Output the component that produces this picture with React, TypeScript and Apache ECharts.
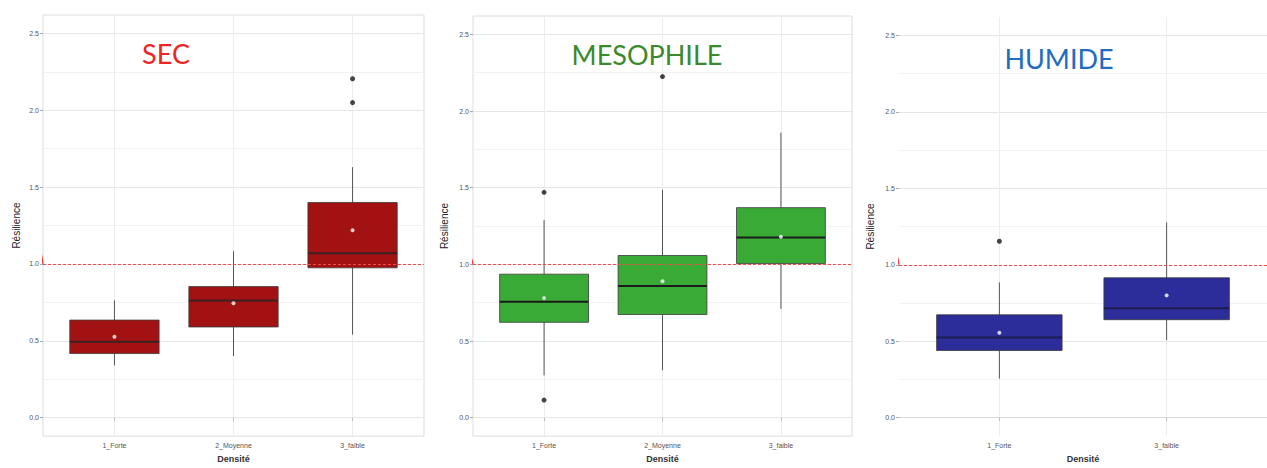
import React, { useEffect, useRef } from "react";
import * as echarts from "echarts";

// ---------- data ----------
const secCategories = ["1_Forte", "2_Moyenne", "3_faible"];
// [min, Q1, median, Q3, max]
const secStats = [
  [0.34, 0.417, 0.494, 0.635, 0.763],
  [0.4, 0.59, 0.763, 0.853, 1.083],
  [0.54, 0.975, 1.07, 1.4, 1.63],
];
const secMeans = [0.526, 0.744, 1.22];
const secOutliers = [
  [3, 2.205],
  [3, 2.05],
];

const mesoCategories = ["1_Forte", "2_Moyenne", "3_faible"];
const mesoStats = [
  [0.276, 0.622, 0.756, 0.936, 1.29],
  [0.31, 0.673, 0.859, 1.058, 1.487],
  [0.71, 1.006, 1.175, 1.37, 1.86],
];
const mesoMeans = [0.78, 0.89, 1.18];
const mesoOutliers = [
  [1, 1.47],
  [1, 0.115],
  [2, 2.225],
];

const humCategories = ["1_Forte", "3_faible"];
const humStats = [
  [0.256, 0.44, 0.525, 0.673, 0.885],
  [0.507, 0.641, 0.716, 0.915, 1.277],
];
const humMeans = [0.556, 0.8];
const humOutliers = [[1, 1.154]];

const yMajorTicks = [0, 0.5, 1, 1.5, 2, 2.5];
const yMinorTicks = [0.25, 0.75, 1.25, 1.75, 2.25];
const referenceValue = 1;

const panels = [
  {
    title: "SEC",
    titleColor: "#ee2424",
    fill: "#a31212",
    median: "#3a2222",
    cats: secCategories,
    stats: secStats,
    means: secMeans,
    outliers: secOutliers,
    grid: { left: 43, top: 15, width: 381, height: 428 },
    border: true,
    titlePos: [166, 53],
    stub: [[0.37, 1.15], [0.4, 1.0]],
    yNameGap: 22,
  },
  {
    title: "MESOPHILE",
    titleColor: "#3a8a2c",
    fill: "#3aaa36",
    median: "#1a1a1a",
    cats: mesoCategories,
    stats: mesoStats,
    means: mesoMeans,
    outliers: mesoOutliers,
    grid: { left: 473, top: 16, width: 379, height: 428 },
    border: true,
    titlePos: [647, 54],
    stub: [[0.355, 1.14], [0.4, 1.0]],
    yNameGap: 24,
  },
  {
    title: "HUMIDE",
    titleColor: "#1f6cc0",
    fill: "#2c2c9a",
    median: "#1c1c50",
    cats: humCategories,
    stats: humStats,
    means: humMeans,
    outliers: humOutliers,
    grid: { left: 899, top: 17, width: 378, height: 428 },
    border: false,
    titlePos: [1059, 58],
    stub: [[0.38, 1.12], [0.4, 1.0]],
    yNameGap: 24,
  },
];

const FONT = "'Liberation Sans', Arial, sans-serif";

export default function App() {
  const ref = useRef<HTMLDivElement>(null);

  useEffect(() => {
    if (!ref.current) return;
    const chart = echarts.init(ref.current, undefined, { renderer: "svg" });

    const grids: any[] = [];
    const xAxes: any[] = [];
    const yAxes: any[] = [];
    const series: any[] = [];
    const graphics: any[] = [];

    panels.forEach((p, pi) => {
      const n = p.cats.length;
      grids.push({
        ...p.grid,
        show: p.border,
        borderColor: "#dcdcdc",
        borderWidth: 1,
        backgroundColor: "transparent",
        containLabel: false,
      });
      const xTicks = p.cats.map((_, i) => i + 1);
      xAxes.push({
        type: "value",
        gridIndex: pi,
        min: 0.4,
        max: n + 0.6,
        axisLine: { show: !p.border, lineStyle: { color: "#d8d8d8" } },
        axisTick: { show: true, customValues: xTicks, length: 3, lineStyle: { color: "#bbbbbb" } },
        axisLabel: {
          customValues: xTicks,
          formatter: (v: number) => p.cats[Math.round(v) - 1] ?? "",
          fontSize: 7,
          color: "#555555",
          margin: 6,
          fontFamily: FONT,
        },
        splitLine: { show: true, lineStyle: { color: "#ededed", width: 1 } },
        name: "Densité",
        nameLocation: "middle",
        nameGap: 16,
        nameTextStyle: { fontSize: 9, fontWeight: "bold", color: "#333", fontFamily: FONT },
      });
      // major y axis
      yAxes.push({
        type: "value",
        gridIndex: pi,
        min: -0.12,
        max: 2.62,
        axisLine: { show: false },
        axisTick: { show: true, customValues: yMajorTicks, length: 3, lineStyle: { color: "#aaaaaa" } },
        axisLabel: {
          customValues: yMajorTicks,
          formatter: (v: number) => v.toFixed(1),
          fontSize: 7,
          color: "#555555",
          margin: 4,
          fontFamily: FONT,
        },
        splitLine: { show: true, lineStyle: { color: "#e6e6e6", width: 1 } },
        name: "Résilience",
        nameLocation: "middle",
        nameGap: p.yNameGap,
        nameTextStyle: { fontSize: 10, color: "#222", fontFamily: FONT },
      });
      // minor y grid
      yAxes.push({
        type: "value",
        gridIndex: pi,
        min: -0.12,
        max: 2.62,
        position: "left",
        axisLine: { show: false },
        axisTick: { show: false, customValues: yMinorTicks },
        axisLabel: { show: false, customValues: yMinorTicks },
        splitLine: { show: true, lineStyle: { color: "#f2f2f2", width: 1 } },
      });
      const xIdx = pi;
      const yIdx = pi * 2;

      series.push({
        type: "custom",
        xAxisIndex: xIdx,
        yAxisIndex: yIdx,
        data: p.stats.map((s, i) => [i + 1, ...s]),
        renderItem: (params: any, api: any) => {
          const x = api.value(0);
          const pMin = api.coord([x, api.value(1)]);
          const pQ1 = api.coord([x, api.value(2)]);
          const pMed = api.coord([x, api.value(3)]);
          const pQ3 = api.coord([x, api.value(4)]);
          const pMax = api.coord([x, api.value(5)]);
          const w = api.size([0.75, 0])[0];
          const cx = pMin[0];
          return {
            type: "group",
            children: [
              {
                type: "line",
                shape: { x1: cx, y1: pMin[1], x2: cx, y2: pQ1[1] },
                style: { stroke: "#555", lineWidth: 1 },
              },
              {
                type: "line",
                shape: { x1: cx, y1: pQ3[1], x2: cx, y2: pMax[1] },
                style: { stroke: "#555", lineWidth: 1 },
              },
              {
                type: "rect",
                shape: { x: cx - w / 2, y: pQ3[1], width: w, height: pQ1[1] - pQ3[1] },
                style: { fill: p.fill, stroke: "#3a3a3a", lineWidth: 0.8 },
              },
              {
                type: "line",
                shape: { x1: cx - w / 2, y1: pMed[1], x2: cx + w / 2, y2: pMed[1] },
                style: { stroke: p.median, lineWidth: 2 },
              },
            ],
          };
        },
        z: 3,
      });

      series.push({
        type: "scatter",
        xAxisIndex: xIdx,
        yAxisIndex: yIdx,
        data: p.outliers,
        symbolSize: 5,
        itemStyle: { color: "#141414" },
        z: 4,
      });

      series.push({
        type: "scatter",
        xAxisIndex: xIdx,
        yAxisIndex: yIdx,
        data: p.means.map((m, i) => [i + 1, m]),
        symbolSize: 4,
        itemStyle: { color: "#ffffff" },
        z: 5,
        markLine: {
          silent: true,
          symbol: "none",
          label: { show: false },
          lineStyle: { color: "#f04a4a", type: [3, 2], width: 1 },
          data: [{ yAxis: referenceValue }],
        },
      });

      series.push({
        type: "line",
        xAxisIndex: xIdx,
        yAxisIndex: yIdx,
        data: p.stub,
        clip: false,
        symbol: "none",
        lineStyle: { color: "#f03030", width: 1.2 },
        silent: true,
        z: 2,
      });

      graphics.push({
        type: "text",
        x: p.titlePos[0],
        y: p.titlePos[1],
        style: {
          text: p.title,
          fill: p.titleColor,
          fontSize: 27,
          fontFamily: "Lato, 'Open Sans', sans-serif",
          align: "center",
          verticalAlign: "middle",
        },
        z: 10,
      });
    });

    chart.setOption({
      animation: false,
      backgroundColor: "#ffffff",
      grid: grids,
      xAxis: xAxes,
      yAxis: yAxes,
      series,
      graphic: graphics,
    });

    return () => chart.dispose();
  }, []);

  return (
    <div
      ref={ref}
      style={{ position: "absolute", left: 0, top: 0, width: 1267, height: 468, background: "#fff" }}
    />
  );
}
